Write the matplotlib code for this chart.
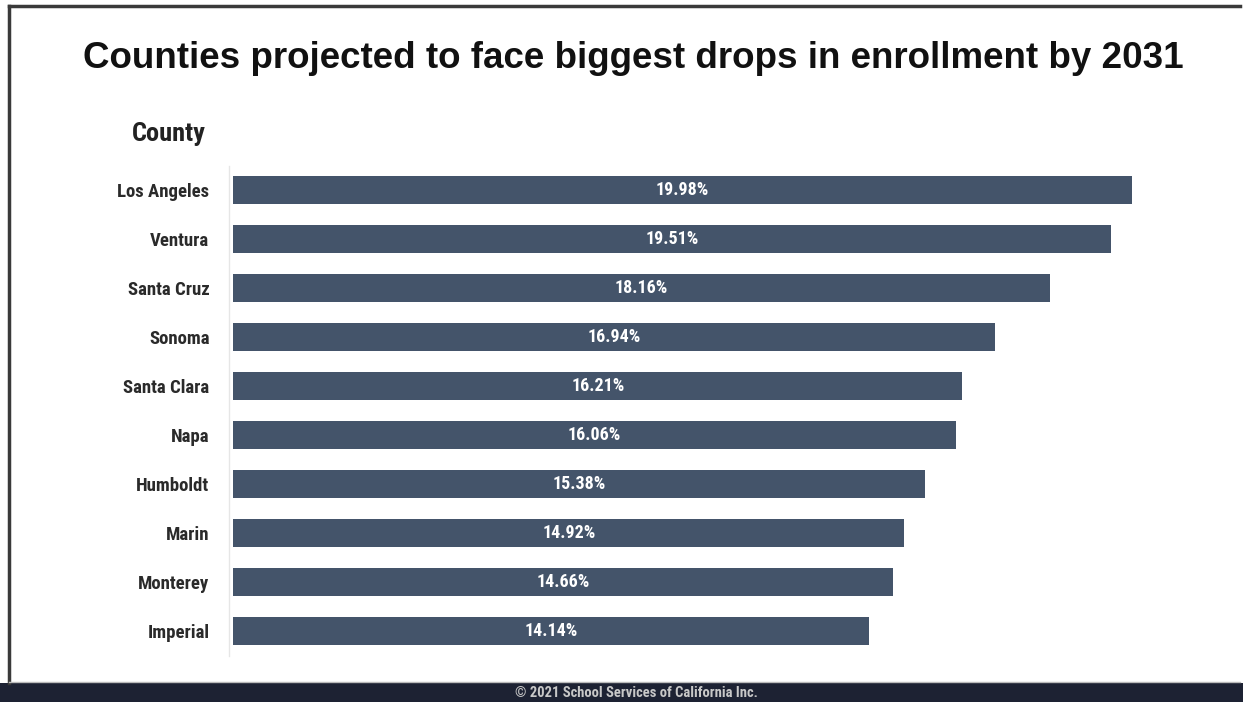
import matplotlib
matplotlib.use("Agg")
import matplotlib.pyplot as plt
from matplotlib.lines import Line2D
from matplotlib.patches import Rectangle

counties = ["Los Angeles", "Ventura", "Santa Cruz", "Sonoma", "Santa Clara",
            "Napa", "Humboldt", "Marin", "Monterey", "Imperial"]
drops = [19.98, 19.51, 18.16, 16.94, 16.21, 16.06, 15.38, 14.92, 14.66, 14.14]

W, H = 1243, 702
narrow = ["Roboto Condensed", "DejaVu Sans"]
bar_color = "#44546a"

fig = plt.figure(figsize=(W / 100, H / 100), dpi=100)
fig.patch.set_facecolor("white")

# plot area in pixel coords
left, right, top, bottom = 233, 1133, 165.5, 655.5
ax = fig.add_axes([left / W, 1 - bottom / H, (right - left) / W, (bottom - top) / H])

# spines first: set_position resets the ticks
for s in ["top", "right", "bottom"]:
    ax.spines[s].set_visible(False)
ax.spines["left"].set_color("#e6e6e6")
ax.spines["left"].set_linewidth(1)
ax.spines["left"].set_position(("outward", 3))

y = list(range(len(counties)))
ax.barh(y, drops, height=0.58, color=bar_color)
for yi, v in zip(y, drops):
    ax.text(v / 2, yi, f"{v:.2f}%", ha="center", va="center", color="white",
            fontsize=13, fontweight="bold", family=narrow)

ax.set_xlim(0, 20)
ax.set_ylim(len(counties) - 0.5, -0.5)
ax.set_xticks([])
ax.set_yticks(y)
ax.set_yticklabels(counties, fontsize=13.5, fontweight="bold", family=narrow, color="#2a2a2a")
ax.tick_params(axis="y", length=0, pad=14)

# titles
fig.text(633 / W, 1 - 58 / H, "Counties projected to face biggest drops in enrollment by 2031",
         ha="center", va="center", fontsize=26.5, fontweight="bold",
         family=["Liberation Sans", "DejaVu Sans"], color="#111111")
fig.text(169 / W, 1 - 134 / H, "County", ha="center", va="center", fontsize=19,
         fontweight="bold", family=narrow, color="#222222")

# frame and footer
fig.add_artist(Rectangle((0, 0), 1, 19 / H, transform=fig.transFigure,
                         facecolor="#1d2233", edgecolor="none"))
fig.add_artist(Line2D([9 / W, 1240 / W], [1 - 6 / H, 1 - 6 / H], transform=fig.transFigure,
                      color="#3a3a3a", linewidth=2.5))
fig.add_artist(Line2D([9 / W, 9 / W], [1 - 6 / H, 19 / H], transform=fig.transFigure,
                      color="#3a3a3a", linewidth=2.5))
fig.add_artist(Line2D([9 / W, 1240 / W], [20 / H, 20 / H], transform=fig.transFigure,
                      color="#bbbbbb", linewidth=1))
fig.text(636 / W, 9 / H, "\u00a9 2021 School Services of California Inc.", ha="center",
         va="center", fontsize=10.5, fontweight="bold", family=narrow, color="#c8c8c8")

fig.savefig("out.png", dpi=100)
